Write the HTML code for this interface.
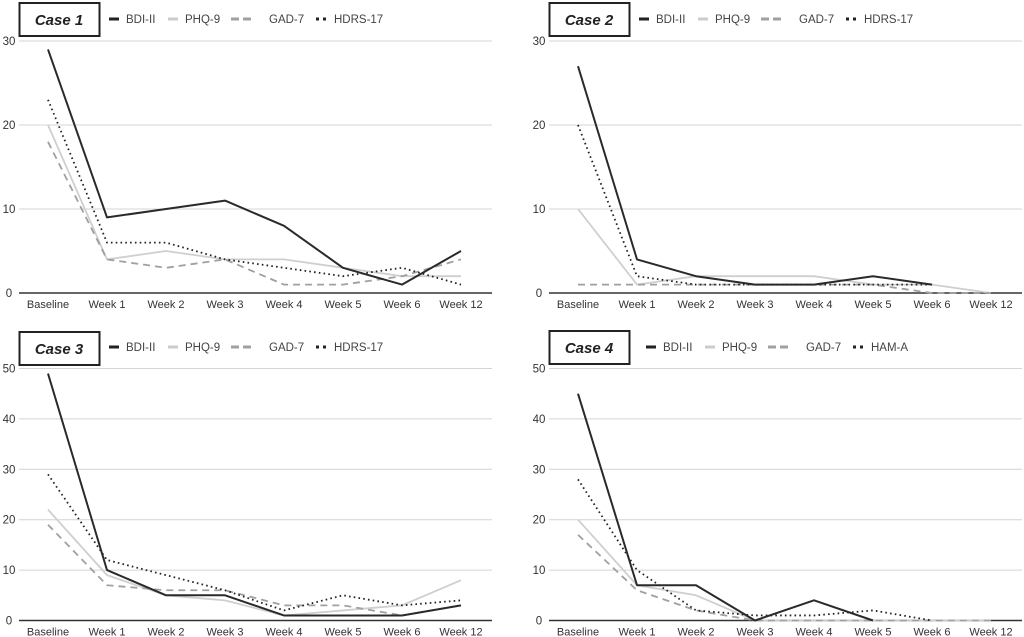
<!DOCTYPE html>
<html><head><meta charset="utf-8"><style>
html,body{margin:0;padding:0;background:#fff;}
svg{display:block;font-family:"Liberation Sans",sans-serif;}
</style></head><body>
<svg id="s" width="1024" height="637" xmlns="http://www.w3.org/2000/svg"></svg>
<script>
const S=document.getElementById('s');
let h='';
const cats=['Baseline','Week 1','Week 2','Week 3','Week 4','Week 5','Week 6','Week 12'];
function panel(o){
  const {dx,top,bot,max,title,data,leg,ly,boxY,legShift}=o;
  const gx0=19+dx, gx1=492+dx;
  const steps=max/10;
  for(let i=0;i<=steps;i++){
    const y=bot-(bot-top)*i/steps;
    h+=`<line x1="${gx0}" x2="${gx1}" y1="${y}" y2="${y}" stroke="${i==0?'#333':'#d4d4d4'}" stroke-width="${i==0?1.5:1}"/>`;
    h+=`<text x="${dx+9}" y="${y+4}" font-size="11.5" fill="#333" text-anchor="middle">${i*10}</text>`;
  }
  cats.forEach((c,i)=>{h+=`<text x="${48+dx+59*i}" y="${bot+15}" font-size="11" fill="#333" text-anchor="middle">${c}</text>`;});
  const st=[
    {c:'#2a2a2a',w:2,d:''},
    {c:'#cfcfcf',w:1.8,d:''},
    {c:'#a0a0a0',w:1.8,d:'7 5'},
    {c:'#222',w:1.8,d:'1.6 3.2'}
  ];
  [1,2,3,0].forEach(k=>{
    const arr=data[k];const s=st[k];
    let pts=[];arr.forEach((v,i)=>{if(v!==null)pts.push(`${48+dx+59*i},${bot-(bot-top)*v/max}`);});
    h+=`<polyline points="${pts.join(' ')}" fill="none" stroke="${s.c}" stroke-width="${s.w}" ${s.d?`stroke-dasharray="${s.d}"`:''} stroke-linejoin="round"/>`;
  });
  h+=`<rect x="${19+dx+0.5}" y="${boxY}" width="80" height="33" fill="#fff" stroke="#222" stroke-width="2"/>`;
  h+=`<text x="${59+dx}" y="${boxY+22}" font-size="15" font-weight="bold" font-style="italic" text-anchor="middle" fill="#222">${title}</text>`;
  const L=dx+legShift;
  h+=`<line x1="${109+L}" x2="${119+L}" y1="${ly}" y2="${ly}" stroke="#222" stroke-width="3"/>`;
  h+=`<text x="${126+L}" y="${ly+4}" font-size="11.5" fill="#444">BDI-II</text>`;
  h+=`<line x1="${168+L}" x2="${178+L}" y1="${ly}" y2="${ly}" stroke="#ccc" stroke-width="3"/>`;
  h+=`<text x="${185+L}" y="${ly+4}" font-size="11.5" fill="#444">PHQ-9</text>`;
  h+=`<line x1="${231+L}" x2="${251+L}" y1="${ly}" y2="${ly}" stroke="#a0a0a0" stroke-width="3" stroke-dasharray="8 4"/>`;
  h+=`<text x="${269+L}" y="${ly+4}" font-size="11.5" fill="#444">GAD-7</text>`;
  h+=`<line x1="${316+L}" x2="${326+L}" y1="${ly}" y2="${ly}" stroke="#222" stroke-width="3" stroke-dasharray="3 4"/>`;
  h+=`<text x="${334+L}" y="${ly+4}" font-size="11.5" fill="#444">${leg}</text>`;
}
const n=null;
panel({dx:0,top:41,bot:293,max:30,title:'Case 1',leg:'HDRS-17',ly:19,boxY:3,legShift:0,
 data:[[29,9,10,11,8,3,1,5],[20,4,5,4,4,3,2,2],[18,4,3,4,1,1,2,4],[23,6,6,4,3,2,3,1]]});
panel({dx:530,top:41,bot:293,max:30,title:'Case 2',leg:'HDRS-17',ly:19,boxY:3,legShift:0,
 data:[[27,4,2,1,1,2,1,n],[10,1,2,2,2,1,1,0],[1,1,1,1,1,1,0,0],[20,2,1,1,1,1,1,n]]});
panel({dx:0,top:368.5,bot:620.5,max:50,title:'Case 3',leg:'HDRS-17',ly:347,boxY:332,legShift:0,
 data:[[49,10,5,5,1,1,1,3],[22,9,5,4,1,2,3,8],[19,7,6,6,3,3,1,3],[29,12,9,6,2,5,3,4]]});
panel({dx:530,top:368.5,bot:620.5,max:50,title:'Case 4',leg:'HAM-A',ly:347,boxY:331,legShift:7,
 data:[[45,7,7,0,4,0,n,n],[20,7,5,0,0,0,0,0],[17,6,2,0,0,0,0,0],[28,10,2,1,1,2,0,n]]});
S.innerHTML=h;
</script>
</body></html>
